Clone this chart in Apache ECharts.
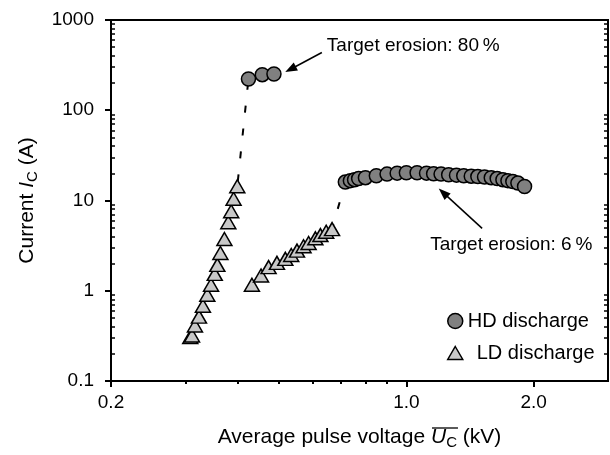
<!DOCTYPE html>
<html><head><meta charset="utf-8">
<script src="https://cdn.jsdelivr.net/npm/echarts@6/dist/echarts.min.js"></script>
<style>html,body{margin:0;padding:0;background:#fff}#c{width:610px;height:455px}</style>
</head><body><div id="c"></div>
<script>
const FONT = 'Liberation Sans';

// HD discharge (circles)
const hdVoltage = [0.423, 0.456, 0.486,
  0.717, 0.737, 0.754, 0.771, 0.800, 0.849, 0.900, 0.951, 1.000, 1.060, 1.116, 1.160, 1.208,
  1.259, 1.314, 1.367, 1.424, 1.476, 1.531, 1.588, 1.640, 1.692, 1.739, 1.786, 1.836, 1.904];
const hdCurrent = [222, 248, 252,
  16.0, 16.6, 17.0, 17.5, 17.9, 18.8, 19.6, 20.1, 20.3, 20.3, 20.1, 19.8, 19.6,
  19.3, 19.1, 18.8, 18.6, 18.4, 18.2, 17.9, 17.5, 17.0, 16.6, 16.2, 15.6, 14.3];

// LD discharge (triangles)
const ldVoltage = [0.308, 0.311, 0.316, 0.323, 0.330, 0.338, 0.345, 0.352, 0.357, 0.363, 0.371, 0.379, 0.385, 0.390, 0.398,
  0.431, 0.453, 0.472, 0.494, 0.517, 0.534, 0.551, 0.571, 0.587, 0.609, 0.626, 0.646, 0.667];
const ldCurrent = [0.307, 0.319, 0.412, 0.517, 0.683, 0.903, 1.165, 1.539, 1.934, 2.62, 3.74, 5.75, 7.61, 10.45, 14.4,
  1.165, 1.474, 1.825, 2.035, 2.253, 2.493, 2.78, 3.11, 3.38, 3.81, 4.14, 4.50, 4.82];

// dashed transitions (LD -> HD)
const link1 = [[0.398, 14.4], [0.423, 222]];
const link2 = [[0.667, 4.82], [0.717, 16.0]];

// annotation arrows [start, end]
const arrow80 = [[0.631, 436], [0.532, 284.8]];
const arrow6 = [[1.511, 4.91], [1.222, 12.22]];
const note80 = 'Target erosion: 80\u2009%';
const note6 = 'Target erosion: 6\u2009%';

// ticks
const xTicks = [0.2, 1, 2];
const xMinorTicks = [0.3, 0.4, 0.5, 0.6, 0.7, 0.8, 0.9];
const yTicks = [0.1, 1, 10, 100, 1000];
const yMinorTicks = [0.2, 0.3, 0.4, 0.5, 0.6, 0.7, 0.8, 0.9,
  2, 3, 4, 5, 6, 7, 8, 9, 20, 30, 40, 50, 60, 70, 80, 90,
  200, 300, 400, 500, 600, 700, 800, 900];

const xMin = 0.2, xMax = 3.0, yMin = 0.1, yMax = 1000;
const xTitlePre = 'Average pulse voltage ', xTitleVar = 'U', xTitleSub = 'C', xTitlePost = ' (kV)';

const hdData = hdVoltage.map((v, i) => [v, hdCurrent[i]]);
const ldData = ldVoltage.map((v, i) => [v, ldCurrent[i]]);

const chart = echarts.init(document.getElementById('c'), null, {renderer: 'canvas'});
const G = {left: 111, top: 20, right: 2, bottom: 72};
const TFS = 19, NFS = 21, SFS = 15, LFS = 20;

function logX(extra) {
  return Object.assign({type: 'log', logBase: 10, min: xMin, max: xMax, gridIndex: 0,
    splitLine: {show: false}, axisLine: {show: false}, axisLabel: {show: false}, axisTick: {show: false}}, extra);
}
function logY(extra) {
  return Object.assign({type: 'log', logBase: 10, min: yMin, max: yMax, gridIndex: 0,
    splitLine: {show: false}, axisLine: {show: false}, axisLabel: {show: false}, axisTick: {show: false}}, extra);
}

const xNameGap = 44;
const richName = {
  i: {fontStyle: 'italic', fontFamily: FONT, fontSize: NFS, color: '#000', lineHeight: 25},
  s: {fontFamily: FONT, fontSize: SFS, color: '#000', lineHeight: 15, padding: [10, 0, 0, 0], verticalAlign: 'bottom'}
};
chart.setOption({
  animation: false,
  backgroundColor: '#fff',
  grid: {left: G.left, top: G.top, right: G.right, bottom: G.bottom, show: true, borderColor: '#000', borderWidth: 2, containLabel: false},
  xAxis: [
    logX({
      position: 'bottom',
      axisLine: {show: true, lineStyle: {color: '#000', width: 2}},
      axisTick: {show: true, inside: false, length: 6, lineStyle: {color: '#000', width: 2}, customValues: xTicks},
      axisLabel: {show: true, customValues: xTicks, margin: 12, color: '#000', fontFamily: FONT, fontSize: TFS,
        formatter: v => Number(v).toFixed(1)},
      name: xTitlePre + '{i|' + xTitleVar + '}{s|' + xTitleSub + '}' + xTitlePost,
      nameLocation: 'middle', nameGap: xNameGap,
      nameTextStyle: {color: '#000', fontFamily: FONT, fontSize: NFS, lineHeight: 25, verticalAlign: 'top', rich: richName}
    }),
    logX({position: 'bottom', axisTick: {show: true, inside: false, length: 3, lineStyle: {color: '#000', width: 2}, customValues: xMinorTicks}})
  ],
  yAxis: [
    logY({
      position: 'left',
      axisLine: {show: true, lineStyle: {color: '#000', width: 2}},
      axisTick: {show: true, inside: false, length: 6, lineStyle: {color: '#000', width: 2}, customValues: yTicks},
      axisLabel: {show: true, customValues: yTicks, margin: 17, color: '#000', fontFamily: FONT, fontSize: TFS,
        formatter: v => String(Number(v))},
      name: 'Current {i|I}{s|C} (A)', nameLocation: 'middle', nameGap: 71, nameRotate: 90,
      nameTextStyle: {color: '#000', fontFamily: FONT, fontSize: NFS, lineHeight: 25, rich: richName}
    }),
    logY({position: 'left', axisTick: {show: true, inside: true, length: 4, lineStyle: {color: '#000', width: 1.5}, customValues: yMinorTicks}}),
    logY({position: 'right', axisTick: {show: true, inside: true, length: 4, lineStyle: {color: '#000', width: 1.5}, customValues: yMinorTicks}})
  ],
  legend: [
    {data: [{name: 'HD discharge', icon: 'circle'}], left: 447, top: 311, padding: 0, itemWidth: 15, itemHeight: 15, itemGap: 0,
      selectedMode: false, textStyle: {color: '#000', fontFamily: FONT, fontSize: LFS},
      itemStyle: {borderColor: '#000', borderWidth: 1.5}},
    {data: [{name: 'LD discharge', icon: 'triangle'}], left: 447, top: 343, padding: 0, itemWidth: 15, itemHeight: 13, itemGap: 0,
      selectedMode: false, textStyle: {color: '#000', fontFamily: FONT, fontSize: LFS, padding: [0, 0, 0, 9]},
      itemStyle: {borderColor: '#000', borderWidth: 1.5}}
  ],
  series: [
    {name: 'link1', type: 'line', data: link1, symbol: 'none', silent: true, z: 1,
      lineStyle: {color: '#000', width: 2, type: [7, 16], dashOffset: 18},
      markLine: {silent: true, symbol: ['none', 'triangle'], symbolSize: [9, 12], animation: false,
        lineStyle: {color: '#000', width: 1.5, type: 'solid'}, label: {show: false},
        data: [[{coord: arrow80[0]}, {coord: arrow80[1]}], [{coord: arrow6[0]}, {coord: arrow6[1]}]]}},
    {name: 'link2', type: 'line', data: link2, symbol: 'none', silent: true, z: 1,
      lineStyle: {color: '#000', width: 2, type: [7, 16], dashOffset: 2}},
    {name: 'HD discharge', type: 'scatter', data: hdData, symbol: 'circle', symbolSize: 14, z: 3,
      itemStyle: {color: '#808080', borderColor: '#000', borderWidth: 1.5, opacity: 1}},
    {name: 'LD discharge', type: 'scatter', data: ldData, symbol: 'triangle', symbolSize: [15, 13], z: 3,
      itemStyle: {color: '#c8c8c8', borderColor: '#000', borderWidth: 1.5, opacity: 1}}
  ]
});

// annotation texts and the overline of the x title
const ctx = document.createElement('canvas').getContext('2d');
function tw(t, font) { ctx.font = font; return ctx.measureText(t).width; }
const wPre = tw(xTitlePre, NFS + 'px "' + FONT + '"');
const wVar = tw(xTitleVar, 'italic ' + NFS + 'px "' + FONT + '"');
const wSub = tw(xTitleSub, SFS + 'px "' + FONT + '"');
const wPost = tw(xTitlePost, NFS + 'px "' + FONT + '"');
const wAll = wPre + wVar + wSub + wPost;
const p0 = chart.convertToPixel({gridIndex: 0}, [xMin, yMin]);
const p1 = chart.convertToPixel({gridIndex: 0}, [xMax, yMax]);
const cx = (p0[0] + p1[0]) / 2;
const olX0 = cx - wAll / 2 + wPre + 1;
const olX1 = olX0 + wVar + wSub;
const olY = p0[1] + xNameGap + 3;
const a80 = chart.convertToPixel({gridIndex: 0}, arrow80[0]);
const a6 = chart.convertToPixel({gridIndex: 0}, arrow6[0]);

chart.setOption({
  graphic: [
    {type: 'line', silent: true, shape: {x1: olX0, y1: olY, x2: olX1, y2: olY}, style: {stroke: '#000', lineWidth: 1.3}},
    {type: 'text', silent: true, x: a80[0] + 5, y: a80[1] - 7,
      style: {text: note80, fill: '#000', font: TFS + 'px "' + FONT + '"', textAlign: 'left', textVerticalAlign: 'middle'}},
    {type: 'text', silent: true, x: a6[0] - 52, y: a6[1] + 16,
      style: {text: note6, fill: '#000', font: TFS + 'px "' + FONT + '"', textAlign: 'left', textVerticalAlign: 'middle'}}
  ]
});
</script></body></html>
